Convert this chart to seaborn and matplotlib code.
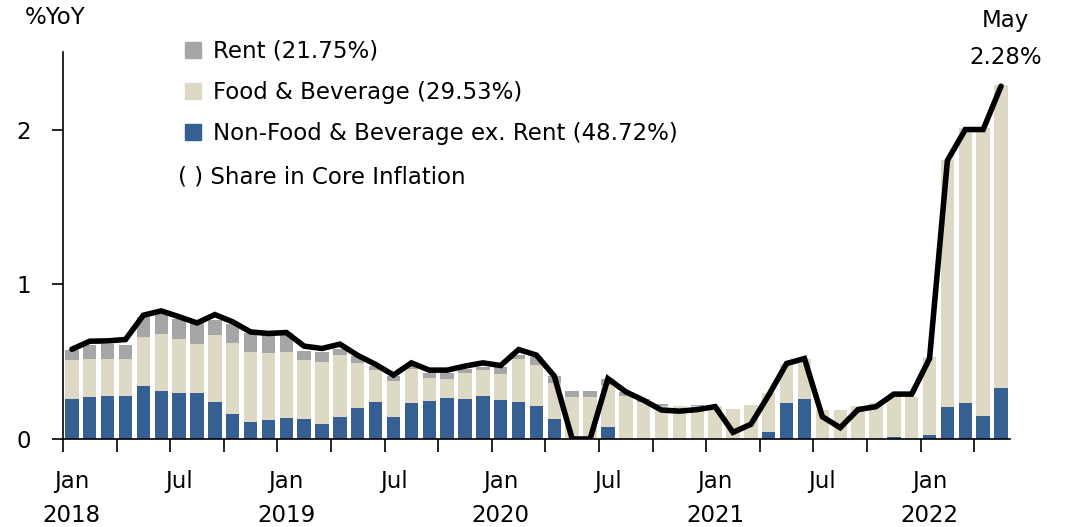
import matplotlib
matplotlib.use("Agg")
import matplotlib.pyplot as plt
import matplotlib.transforms as mtransforms
from matplotlib.patches import Patch
import seaborn as sns
import numpy as np
import pandas as pd

# Monthly contributions to core inflation (%YoY), Jan 2018 - May 2022
months = pd.date_range("2018-01-01", "2022-05-01", freq="MS")

nonfood = [0.26, 0.27, 0.28, 0.28, 0.34, 0.31, 0.295, 0.295, 0.24, 0.16, 0.11, 0.125,
           0.135, 0.13, 0.10, 0.145, 0.20, 0.24, 0.14, 0.23, 0.245, 0.265, 0.26, 0.28,
           0.25, 0.24, 0.215, 0.13, -0.31, -0.31, 0.08, -0.01, -0.01, -0.04, -0.03, -0.03,
           -0.01, -0.15, -0.12, 0.045, 0.235, 0.26, -0.05, -0.11, -0.02, -0.02, 0.015, 0.0,
           0.025, 0.205, 0.235, 0.15, 0.33]
food = [0.25, 0.25, 0.24, 0.235, 0.32, 0.37, 0.35, 0.32, 0.43, 0.46, 0.455, 0.43,
        0.43, 0.38, 0.40, 0.40, 0.29, 0.205, 0.235, 0.22, 0.15, 0.125, 0.165, 0.165,
        0.17, 0.275, 0.26, 0.235, 0.27, 0.27, 0.27, 0.28, 0.24, 0.21, 0.21, 0.21,
        0.215, 0.195, 0.22, 0.25, 0.25, 0.26, 0.19, 0.185, 0.21, 0.23, 0.26, 0.27,
        0.505, 1.60, 1.775, 1.86, 1.96]
rent = [0.065, 0.09, 0.095, 0.095, 0.13, 0.13, 0.13, 0.15, 0.10, 0.125, 0.12, 0.115,
        0.12, 0.06, 0.065, 0.035, 0.045, 0.025, 0.03, 0.02, 0.03, 0.035, 0.03, 0.02,
        0.045, 0.03, 0.055, 0.045, 0.04, 0.04, 0.04, 0.025, 0.02, 0.015, 0.0, 0.01,
        0.0, 0.0, 0.0, 0.0, 0.0, 0.0, 0.0, 0.0, 0.0, 0.0, 0.0, 0.0,
        0.0, 0.0, 0.0, 0.0, 0.0]
core = [0.58, 0.632, 0.634, 0.643, 0.80, 0.828, 0.79, 0.75, 0.804, 0.757, 0.692, 0.682,
        0.688, 0.60, 0.585, 0.613, 0.54, 0.482, 0.413, 0.492, 0.445, 0.445, 0.471, 0.492,
        0.475, 0.578, 0.542, 0.406, 0.0, 0.0, 0.39, 0.305, 0.25, 0.187, 0.18, 0.19,
        0.209, 0.043, 0.095, 0.284, 0.488, 0.52, 0.144, 0.073, 0.19, 0.209, 0.29, 0.29,
        0.52, 1.80, 2.0, 2.0, 2.28]

legend_labels = ["Rent (21.75%)", "Food & Beverage (29.53%)",
                 "Non-Food & Beverage ex. Rent (48.72%)"]

sns.set_style("ticks")
plt.rcParams["font.family"] = ["DejaVu Sans"]
plt.rcParams["text.color"] = "black"
plt.rcParams["xtick.color"] = "black"
plt.rcParams["ytick.color"] = "black"
plt.rcParams["axes.edgecolor"] = "black"
FS = 16.5

c_rent = "#A6A6A6"
c_food = "#DDD9C4"
c_nonfood = "#376092"

fig, ax = plt.subplots(figsize=(10.71, 5.27), dpi=100)
fig.subplots_adjust(left=0.0588, right=0.943, bottom=0.167, top=0.901)

x = np.arange(len(months))
nf = np.array(nonfood)
fd = np.array(food)
rt = np.array(rent)
base = np.clip(nf, 0, None)

w = 0.75
ax.bar(x, nf, width=w, color=c_nonfood, linewidth=0)
ax.bar(x, fd, bottom=base, width=w, color=c_food, linewidth=0)
ax.bar(x, rt, bottom=base + fd, width=w, color=c_rent, linewidth=0)

df = pd.DataFrame({"x": x, "core": core})
sns.lineplot(data=df, x="x", y="core", ax=ax, color="black", linewidth=4.0,
             solid_joinstyle="miter")

ax.set_xlim(-0.5, len(months) - 0.5)
ax.set_ylim(0, 2.5)
ax.set_yticks([0, 1, 2])
ax.set_ylabel("")
ax.set_xlabel("")
sns.despine(ax=ax)
ax.spines["left"].set_linewidth(1.2)
ax.spines["bottom"].set_linewidth(1.2)
ax.tick_params(axis="y", length=8, width=1.2, labelsize=FS, pad=15)

# ticks between quarters, labels at Jan / Jul
ax.set_xticks(np.arange(-0.5, len(months), 3))
ax.set_xticklabels([])
ax.tick_params(axis="x", length=9, width=1.2)
trans = mtransforms.blended_transform_factory(ax.transData, ax.transAxes)
for i, m in enumerate(months):
    if m.month in (1, 7):
        ax.text(i, -0.109, m.strftime("%b"), transform=trans, ha="center",
                va="center", fontsize=FS)
    if m.month == 1:
        ax.text(i, -0.197, str(m.year), transform=trans, ha="center",
                va="center", fontsize=FS)

fig.text(55 / 1071, 1 - 18 / 527, "%YoY", ha="center", va="center", fontsize=FS)
fig.text(1005 / 1071, 1 - 20 / 527, "May", ha="center", va="center", fontsize=FS)
fig.text(1006 / 1071, 1 - 57 / 527, "2.28%", ha="center", va="center", fontsize=FS)

handles = [Patch(color=c_rent), Patch(color=c_food), Patch(color=c_nonfood)]
leg = ax.legend(handles, legend_labels,
                loc="upper left", bbox_to_anchor=(0.119, 1.056), frameon=False,
                fontsize=FS, handlelength=0.7, handleheight=0.7,
                handletextpad=0.55, labelspacing=0.8, borderaxespad=0)
fig.text(178 / 1071, 1 - 177 / 527, "( ) Share in Core Inflation",
         ha="left", va="center", fontsize=FS)

fig.savefig("out.png", dpi=100)
